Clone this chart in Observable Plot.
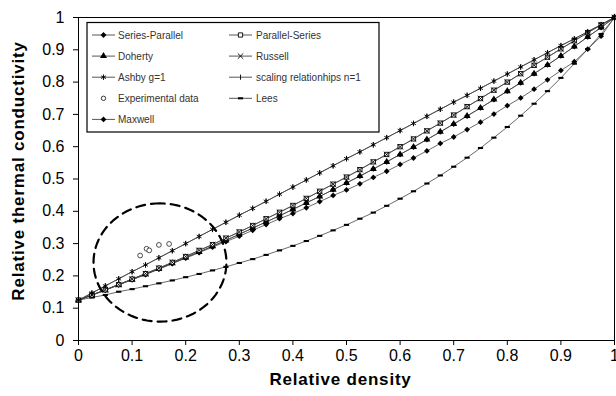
<!DOCTYPE html>
<html><head><meta charset="utf-8">
<script src="https://cdn.jsdelivr.net/npm/d3@7"></script>
<script src="https://cdn.jsdelivr.net/npm/@observablehq/plot@0.6"></script>
<style>
body{margin:0;background:#fff;}
#chart{position:relative;width:616px;height:396px;}
#chart svg{font-family:"Liberation Sans",Arial,sans-serif;}
</style></head><body><div id="chart"></div>
<script>
// ---- data ----
const relDensity = [0,0.025,0.05,0.075,0.1,0.125,0.15,0.175,0.2,0.225,0.25,0.275,0.3,0.325,0.35,0.375,0.4,0.425,0.45,0.475,0.5,0.525,0.55,0.575,0.6,0.625,0.65,0.675,0.7,0.725,0.75,0.775,0.8,0.825,0.85,0.875,0.9,0.925,0.95,0.975,1];
const seriesParallel = [0.125,0.140,0.156,0.172,0.188,0.204,0.221,0.238,0.255,0.272,0.289,0.306,0.323,0.341,0.359,0.377,0.393,0.411,0.430,0.449,0.466,0.485,0.505,0.524,0.545,0.565,0.587,0.610,0.630,0.653,0.676,0.701,0.727,0.751,0.778,0.807,0.836,0.863,0.902,0.942,1];
const parallelSeries = [0.125,0.141,0.157,0.173,0.190,0.207,0.224,0.242,0.260,0.279,0.297,0.317,0.336,0.356,0.377,0.397,0.418,0.440,0.462,0.484,0.506,0.529,0.553,0.576,0.600,0.624,0.649,0.673,0.698,0.724,0.749,0.775,0.800,0.826,0.852,0.877,0.903,0.928,0.953,0.977,1];
const doherty = [0.125,0.141,0.156,0.173,0.189,0.205,0.222,0.239,0.257,0.274,0.292,0.310,0.329,0.348,0.367,0.386,0.406,0.426,0.446,0.467,0.488,0.509,0.531,0.553,0.576,0.599,0.622,0.646,0.670,0.695,0.720,0.746,0.772,0.798,0.826,0.853,0.881,0.910,0.940,0.969,1];
const russell = [0.125,0.141,0.157,0.173,0.190,0.207,0.224,0.242,0.260,0.279,0.297,0.317,0.336,0.356,0.377,0.397,0.418,0.440,0.462,0.484,0.506,0.529,0.553,0.576,0.600,0.624,0.649,0.673,0.698,0.724,0.749,0.775,0.800,0.826,0.852,0.877,0.903,0.928,0.953,0.977,1];
const ashby = [0.125,0.147,0.169,0.191,0.213,0.234,0.256,0.278,0.300,0.322,0.344,0.366,0.388,0.409,0.431,0.453,0.475,0.497,0.519,0.541,0.563,0.584,0.606,0.628,0.650,0.672,0.694,0.716,0.738,0.759,0.781,0.803,0.825,0.847,0.869,0.891,0.913,0.934,0.956,0.978,1];
const scalingN1 = [0.125,0.147,0.169,0.191,0.213,0.234,0.256,0.278,0.300,0.322,0.344,0.366,0.388,0.409,0.431,0.453,0.475,0.497,0.519,0.541,0.563,0.584,0.606,0.628,0.650,0.672,0.694,0.716,0.738,0.759,0.781,0.803,0.825,0.847,0.869,0.891,0.913,0.934,0.956,0.978,1];
const lees = [0.125,0.133,0.141,0.151,0.159,0.168,0.177,0.186,0.196,0.206,0.217,0.228,0.240,0.252,0.265,0.279,0.293,0.308,0.324,0.341,0.358,0.377,0.396,0.417,0.439,0.462,0.486,0.511,0.538,0.566,0.596,0.628,0.661,0.696,0.733,0.772,0.813,0.857,0.902,0.949,1];
const maxwell = [0.125,0.141,0.156,0.173,0.189,0.205,0.222,0.239,0.257,0.274,0.292,0.310,0.329,0.348,0.367,0.386,0.406,0.426,0.446,0.467,0.488,0.509,0.531,0.553,0.576,0.599,0.622,0.646,0.670,0.695,0.720,0.746,0.772,0.798,0.826,0.853,0.881,0.910,0.940,0.969,1];
const expDensity = [0.115,0.127,0.132,0.150,0.169];
const expConductivity = [0.263,0.284,0.279,0.296,0.299];
// highlighted region (dashed ellipse) in data units
const ellipseCenter = [0.152, 0.2415];
const ellipseRadii = [0.124, 0.183];
const xTicks = [0,0.1,0.2,0.3,0.4,0.5,0.6,0.7,0.8,0.9,1];
const xTickLabels = ["0","0.1","0.2","0.3","0.4","0.5","0.6","0.7","0.8","0.9","1"];
const yTicks = [0,0.1,0.2,0.3,0.4,0.5,0.6,0.7,0.8,0.9,1];
const yTickLabels = ["0","0.1","0.2","0.3","0.4","0.5","0.6","0.7","0.8","0.9","1"];
const xTitle = "Relative density";
const yTitle = "Relative thermal conductivity";
const legendNames = ["Series-Parallel","Parallel-Series","Doherty","Russell","Ashby g=1","scaling relationhips n=1","Experimental data","Lees","Maxwell"];

// ---- styles ----
const vtick = {draw(ctx, size){const r = Math.sqrt(size/Math.PI); ctx.moveTo(0,-r); ctx.lineTo(0,r);}};
const hbar = {draw(ctx, size){const r = Math.sqrt(size/Math.PI); ctx.rect(-r,-r*0.4,2*r,r*0.8);}};
const styles = {
  "Series-Parallel": {values: seriesParallel, symbol: "diamond2", fill: "black", stroke: "none", r: 2.6},
  "Parallel-Series": {values: parallelSeries, symbol: d3.symbolSquare, fill: "white", stroke: "black", r: 2.4},
  "Doherty": {values: doherty, symbol: "triangle", fill: "black", stroke: "none", r: 2.6},
  "Russell": {values: russell, symbol: "times", fill: "none", stroke: "black", r: 2.6},
  "Ashby g=1": {values: ashby, symbol: "asterisk", fill: "none", stroke: "black", r: 2.6},
  "scaling relationhips n=1": {values: scalingN1, symbol: vtick, fill: "none", stroke: "black", r: 2.6},
  "Lees": {values: lees, symbol: hbar, fill: "black", stroke: "none", r: 2.6},
  "Maxwell": {values: maxwell, symbol: "diamond2", fill: "black", stroke: "none", r: 2.6}
};
const drawOrder = ["Lees","Series-Parallel","Maxwell","Doherty","Parallel-Series","Russell","Ashby g=1","scaling relationhips n=1"];

const rowsOf = name => relDensity.map((x, i) => ({x, y: styles[name].values[i], series: name}));
const allRows = drawOrder.flatMap(rowsOf);
const expRows = expDensity.map((x, i) => ({x, y: expConductivity[i]}));
const ellipse = d3.range(0, 97).map(i => {
  const t = i / 96 * 2 * Math.PI + Math.PI / 2;
  return {x: ellipseCenter[0] + ellipseRadii[0] * Math.cos(t), y: ellipseCenter[1] + ellipseRadii[1] * Math.sin(t)};
});

const marks = [
  Plot.axisX({ticks: xTicks, tickFormat: d => xTickLabels[xTicks.indexOf(d)], tickSize: 5, tickPadding: 4, fontSize: 16, fill: "black", label: null}),
  Plot.axisY({ticks: yTicks, tickFormat: d => yTickLabels[yTicks.indexOf(d)], tickSize: 5, tickPadding: 9, fontSize: 16, fill: "black", label: null}),
  Plot.line(allRows, {x: "x", y: "y", z: "series", stroke: "#444", strokeWidth: 0.8}),
  ...drawOrder.map(name => Plot.dot(rowsOf(name), {x: "x", y: "y", symbol: styles[name].symbol, r: styles[name].r, fill: styles[name].fill, stroke: styles[name].stroke, strokeWidth: 0.9})),
  Plot.dot(expRows, {x: "x", y: "y", symbol: "circle", r: 2.4, fill: "white", stroke: "#222", strokeWidth: 0.8}),
  Plot.line(ellipse, {x: "x", y: "y", stroke: "black", strokeWidth: 2.2, strokeDasharray: "9,6"}),
  Plot.frame({stroke: "black", strokeWidth: 1}),
  Plot.text([xTitle], {frameAnchor: "bottom", dy: 44, dx: -6, textAnchor: "middle", fontSize: 17, fontWeight: "bold", fill: "black"}),
  Plot.text([yTitle], {frameAnchor: "left", dx: -60, dy: -8, textAnchor: "middle", rotate: -90, fontSize: 17, fontWeight: "bold", fill: "black"})
];

const chart = Plot.plot({
  width: 616, height: 396,
  marginLeft: 78, marginRight: 2, marginTop: 17, marginBottom: 56,
  x: {domain: [0, 1]},
  y: {domain: [0, 1]},
  style: {fontFamily: "'Liberation Sans', Arial, sans-serif", overflow: "visible", background: "white"},
  marks
});
chart.querySelectorAll("text").forEach(t => {
  if (t.textContent === xTitle || t.textContent === yTitle) t.style.letterSpacing = "0.8px";
});

// ---- legend box, drawn inside the plot area ----
const svg = d3.select(chart);
const lg = svg.append("g").attr("transform", "translate(87,22.5)");
lg.append("rect").attr("width", 292).attr("height", 109.5).attr("fill", "white").attr("stroke", "black").attr("stroke-width", 1.2);
const legendStyles = Object.assign({}, styles, {"Experimental data": {symbol: "circle", fill: "white", stroke: "#222", r: 2.2, noLine: true}});
const symbolOf = s => typeof s === "string" ? ({diamond2: d3.symbolDiamond2, triangle: d3.symbolTriangle, times: d3.symbolTimes, asterisk: d3.symbolAsterisk, circle: d3.symbolCircle})[s] : s;
legendNames.forEach((name, i) => {
  const col = i < 8 ? i % 2 : 0;
  const row = Math.floor(i / 2);
  const gx = col === 0 ? 5 : 142, gy = 12.5 + row * 21.1;
  const st = legendStyles[name];
  const g = lg.append("g").attr("transform", `translate(${gx},${gy})`);
  if (!st.noLine) g.append("line").attr("x1", 0).attr("x2", 23).attr("stroke", "#444").attr("stroke-width", 0.9);
  g.append("path").attr("transform", "translate(11.5,0)")
    .attr("d", d3.symbol(symbolOf(st.symbol), st.r * st.r * Math.PI)())
    .attr("fill", st.fill).attr("stroke", st.stroke).attr("stroke-width", 0.9);
  g.append("text").attr("x", col === 0 ? 26 : 27).attr("y", 0).attr("dy", "0.35em")
    .attr("text-anchor", "start").attr("font-size", 10).attr("fill", "#333").text(name);
});

document.getElementById("chart").appendChild(chart);
</script>
</body></html>
